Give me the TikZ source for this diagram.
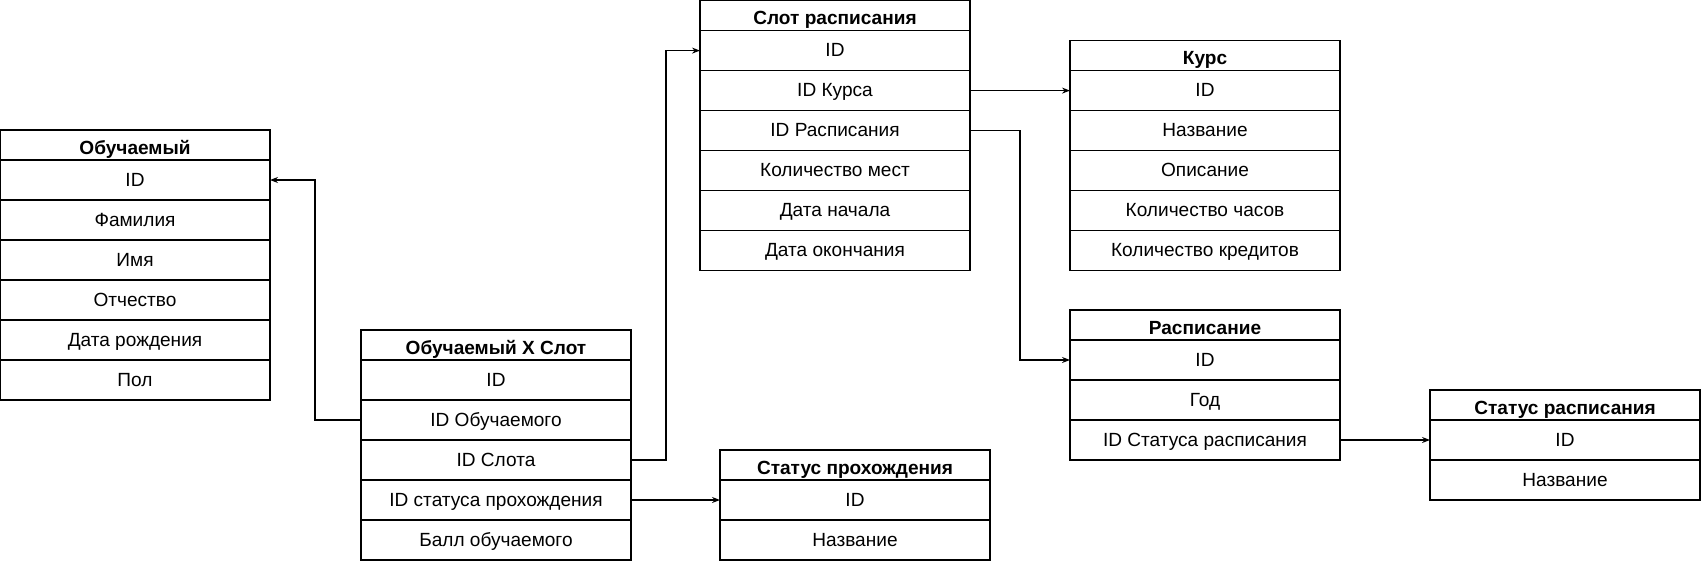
\documentclass[tikz,border=0pt]{standalone}
\usepackage{fontspec}
\setmainfont{Liberation Sans}
\usepackage{tikz}
\usetikzlibrary{arrows.meta,positioning}

\begin{document}
\begin{tikzpicture}[
  x=0.75pt, y=-0.75pt,
  tblhead/.style={rectangle, draw, line width=0.8pt, minimum width=202.5pt,
                  minimum height=22.5pt, inner sep=0pt, outer sep=0pt,
                  text height=15pt, text depth=1pt,
                  font=\bfseries\fontsize{14.3}{17}\selectfont},
  tblrow/.style={tblhead, minimum height=30pt,
                 text height=11.5pt, text depth=2.5pt,
                 font=\fontsize{14.3}{17}\selectfont},
  link/.style={->, line width=0.8pt},
  >={Stealth[length=6pt, width=4.5pt]}
]
\useasboundingbox (0,0) rectangle (1701,561);

% Обучаемый
\node[tblhead, anchor=north west] (stud) at (0,130) {Обучаемый};
\node[tblrow, below=0pt of stud] (stud-id) {ID};
\node[tblrow, below=0pt of stud-id] (stud-fam) {Фамилия};
\node[tblrow, below=0pt of stud-fam] (stud-name) {Имя};
\node[tblrow, below=0pt of stud-name] (stud-patr) {Отчество};
\node[tblrow, below=0pt of stud-patr] (stud-birth) {Дата рождения};
\node[tblrow, below=0pt of stud-birth] (stud-sex) {Пол};

% Обучаемый X Слот
\node[tblhead, anchor=north west] (sx) at (361,330) {Обучаемый X Слот};
\node[tblrow, below=0pt of sx] (sx-id) {ID};
\node[tblrow, below=0pt of sx-id] (sx-stud) {ID Обучаемого};
\node[tblrow, below=0pt of sx-stud] (sx-slot) {ID Слота};
\node[tblrow, below=0pt of sx-slot] (sx-status) {ID статуса прохождения};
\node[tblrow, below=0pt of sx-status] (sx-score) {Балл обучаемого};

% Слот расписания
\node[tblhead, anchor=north west] (slot) at (700,0.6) {Слот расписания};
\node[tblrow, below=0pt of slot] (slot-id) {ID};
\node[tblrow, below=0pt of slot-id] (slot-course) {ID Курса};
\node[tblrow, below=0pt of slot-course] (slot-sched) {ID Расписания};
\node[tblrow, below=0pt of slot-sched] (slot-seats) {Количество мест};
\node[tblrow, below=0pt of slot-seats] (slot-start) {Дата начала};
\node[tblrow, below=0pt of slot-start] (slot-end) {Дата окончания};

% Статус прохождения
\node[tblhead, anchor=north west] (pst) at (720,450) {Статус прохождения};
\node[tblrow, below=0pt of pst] (pst-id) {ID};
\node[tblrow, below=0pt of pst-id] (pst-name) {Название};

% Курс
\node[tblhead, anchor=north west] (course) at (1070,40.6) {Курс};
\node[tblrow, below=0pt of course] (course-id) {ID};
\node[tblrow, below=0pt of course-id] (course-name) {Название};
\node[tblrow, below=0pt of course-name] (course-descr) {Описание};
\node[tblrow, below=0pt of course-descr] (course-hours) {Количество часов};
\node[tblrow, below=0pt of course-hours] (course-cred) {Количество кредитов};

% Расписание
\node[tblhead, anchor=north west] (sched) at (1070,310) {Расписание};
\node[tblrow, below=0pt of sched] (sched-id) {ID};
\node[tblrow, below=0pt of sched-id] (sched-year) {Год};
\node[tblrow, below=0pt of sched-year] (sched-stat) {ID Статуса расписания};

% Статус расписания
\node[tblhead, anchor=north west] (sst) at (1430,390) {Статус расписания};
\node[tblrow, below=0pt of sst] (sst-id) {ID};
\node[tblrow, below=0pt of sst-id] (sst-name) {Название};

% Links
\draw[link] (sx-stud.west) -- ++(-46,0) |- (stud-id.east);
\draw[link] (sx-slot.east) -- ++(35,0) |- (slot-id.west);
\draw[link] (sx-status.east) -- (pst-id.west);
\draw[link] (slot-course.east) -- (course-id.west);
\draw[link] (slot-sched.east) -- ++(50,0) |- (sched-id.west);
\draw[link] (sched-stat.east) -- (sst-id.west);

\end{tikzpicture}
\end{document}
